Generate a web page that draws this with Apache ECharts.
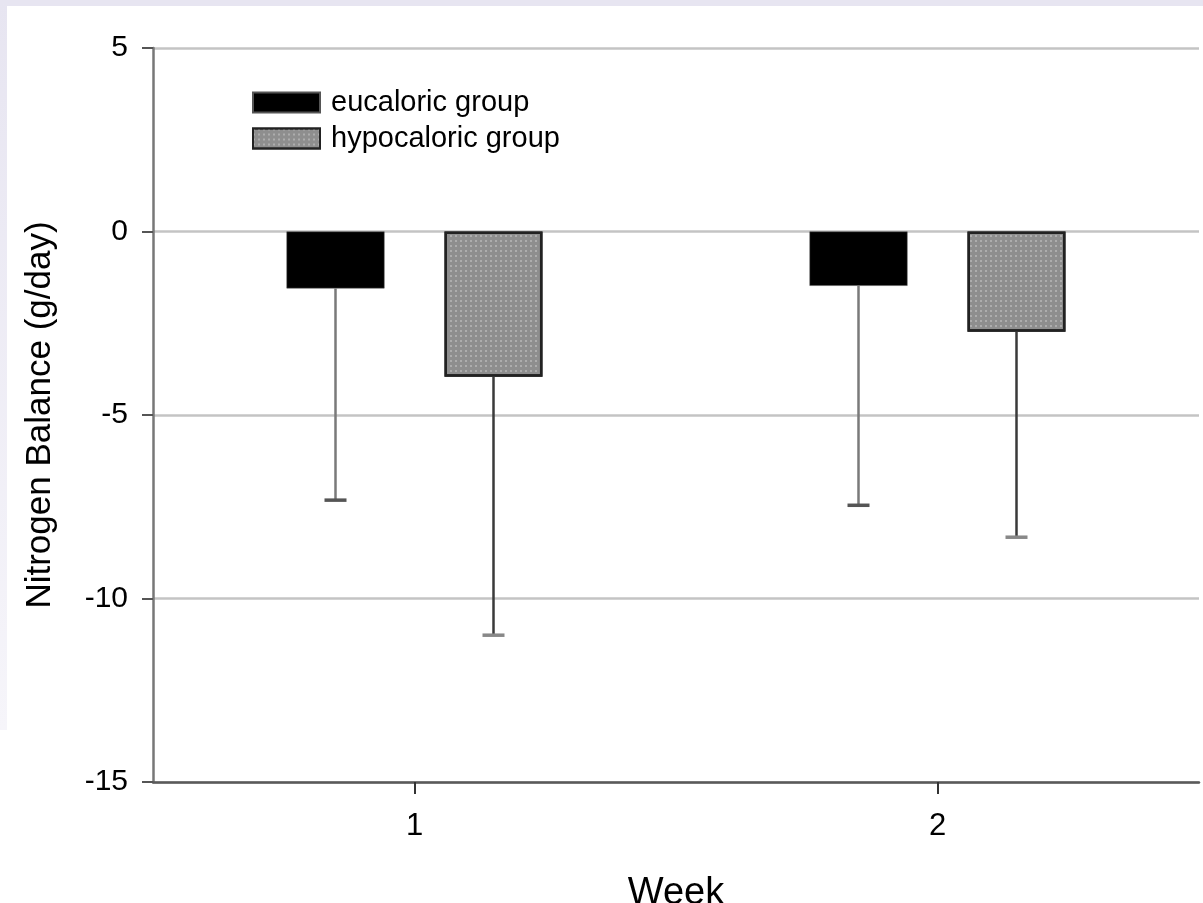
<!DOCTYPE html>
<html>
<head>
<meta charset="utf-8">
<script src="https://cdn.jsdelivr.net/npm/echarts@6/dist/echarts.min.js"></script>
<style>
html,body{margin:0;padding:0;background:#fff;}
#c{width:1203px;height:903px;}
</style>
</head>
<body>
<div id="c"></div>
<script>
// ---- data ----
const weeks = ['1', '2'];
const seriesNames = ['eucaloric group', 'hypocaloric group'];
const eucMean = [-1.55, -1.48];
const eucSD = [5.77, 5.98];
const hypoMean = [-3.96, -2.73];
const hypoSD = [7.04, 5.60];
const yTicks = [5, 0, -5, -10, -15];

// ---- layout constants ----
const BAR_W = 98;
const BAR_GAP = 60;
const OFF = (BAR_W + BAR_GAP) / 2;
const FONT = '"Liberation Sans", Arial, sans-serif';

function errorRender(offset, lineColor, capColor) {
  return function (params, api) {
    const idx = api.value(0);
    const top = api.coord([idx, api.value(1)]);
    const bot = api.coord([idx, api.value(2)]);
    const x = top[0] + offset;
    return {
      type: 'group',
      children: [
        { type: 'line', shape: { x1: x, y1: top[1], x2: x, y2: bot[1] },
          style: { stroke: lineColor, lineWidth: 2.5 } },
        { type: 'line', shape: { x1: x - 11, y1: bot[1], x2: x + 11, y2: bot[1] },
          style: { stroke: capColor, lineWidth: 3.5 } }
      ]
    };
  };
}

const chart = echarts.init(document.getElementById('c'), null, { renderer: 'canvas' });
chart.setOption({
  backgroundColor: '#ffffff',
  animation: false,
  graphic: [
    { type: 'rect', shape: { x: 0, y: 0, width: 1203, height: 6 }, style: { fill: '#e7e5f1' }, z: -1 },
    { type: 'rect', shape: { x: 0, y: 0, width: 7, height: 730 },
      style: { fill: new echarts.graphic.LinearGradient(0, 0, 0, 1, [
        { offset: 0, color: '#e7e5f1' }, { offset: 1, color: '#f6f5fa' }]) }, z: -1 }
  ],
  grid: { left: 153, right: 4, top: 48, bottom: 121, containLabel: false, outerBoundsMode: 'none' },
  legend: {
    data: seriesNames,
    orient: 'vertical',
    left: 247,
    top: 83,
    icon: 'rect',
    itemWidth: 67,
    itemHeight: 20,
    itemGap: 7,
    textStyle: { fontSize: 29, lineHeight: 28, color: '#000', fontFamily: FONT, padding: [0, 0, 0, 6] }
  },
  xAxis: {
    type: 'category',
    data: weeks,
    name: 'Week',
    nameLocation: 'middle',
    nameGap: 93,
    nameTextStyle: { fontSize: 38, color: '#000', fontFamily: FONT },
    axisLine: { onZero: false, lineStyle: { color: '#5a5a5a', width: 2.5 } },
    axisTick: { show: true, alignWithLabel: true, length: 12, lineStyle: { color: '#333', width: 2 } },
    axisLabel: { fontSize: 31, color: '#000', fontFamily: FONT, margin: 29 },
    splitLine: { show: false }
  },
  yAxis: {
    type: 'value',
    min: -15,
    max: 5,
    interval: 5,
    name: 'Nitrogen Balance (g/day)',
    nameLocation: 'middle',
    nameGap: 95,
    nameTextStyle: { fontSize: 35, color: '#000', fontFamily: FONT },
    axisLine: { show: true, lineStyle: { color: '#777', width: 2.5 } },
    axisTick: { show: true, length: 11, lineStyle: { color: '#555', width: 2 } },
    axisLabel: {
      fontSize: 30, color: '#000', fontFamily: FONT, margin: 25,
      formatter: function (v) { return yTicks.indexOf(v) >= 0 ? String(v) : ''; }
    },
    splitLine: { show: true, lineStyle: { color: '#c4c4c4', width: 2.5 } }
  },
  series: [
    {
      name: seriesNames[0],
      type: 'bar',
      data: eucMean,
      barWidth: BAR_W,
      barGap: (BAR_GAP / BAR_W * 100).toFixed(1) + '%',
      itemStyle: { color: '#000000', borderColor: '#555', borderWidth: 0.5 },
      z: 3
    },
    {
      name: seriesNames[1],
      type: 'bar',
      data: hypoMean,
      barWidth: BAR_W,
      itemStyle: {
        color: '#8e8e8e',
        borderColor: '#222',
        borderWidth: 2.5,
        decal: {
          symbol: 'rect', symbolSize: 1, color: 'rgba(210,210,210,0.45)',
          dashArrayX: [2, 3], dashArrayY: [2, 3], rotation: 0
        }
      },
      z: 3
    },
    {
      name: 'eucErr',
      type: 'custom',
      renderItem: errorRender(-OFF, '#7a7a7a', '#555'),
      data: weeks.map((w, i) => [i, eucMean[i], eucMean[i] - eucSD[i]]),
      encode: { x: 0, y: [1, 2] },
      z: 4,
      silent: true
    },
    {
      name: 'hypoErr',
      type: 'custom',
      renderItem: errorRender(OFF, '#3a3a3a', '#888'),
      data: weeks.map((w, i) => [i, hypoMean[i], hypoMean[i] - hypoSD[i]]),
      encode: { x: 0, y: [1, 2] },
      z: 4,
      silent: true
    }
  ]
});
</script>
</body>
</html>
